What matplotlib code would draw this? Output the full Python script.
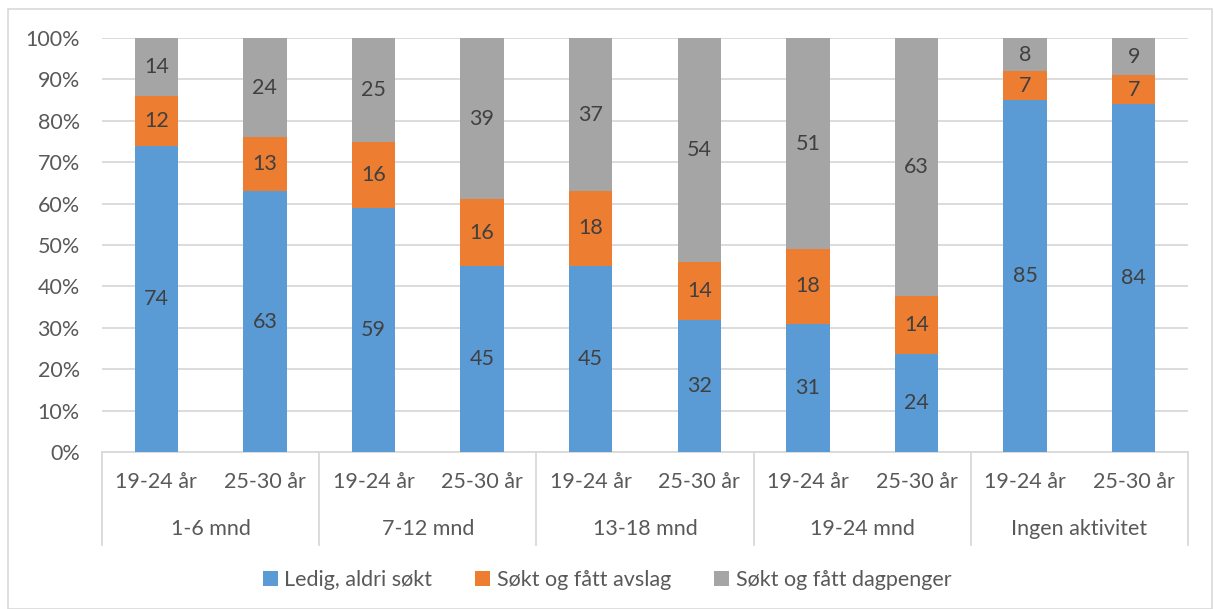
import matplotlib
matplotlib.use("Agg")
import matplotlib.pyplot as plt
from matplotlib.lines import Line2D
from matplotlib.patches import Rectangle, Patch
import numpy as np

plt.rcParams['font.family'] = ['Lato', 'DejaVu Sans']

groups = ["1-6 mnd", "7-12 mnd", "13-18 mnd", "19-24 mnd", "Ingen aktivitet"]
ages = ["19-24 år", "25-30 år"]
series_names = ["Ledig, aldri søkt", "Søkt og fått avslag", "Søkt og fått dagpenger"]
ledig = [74, 63, 59, 45, 45, 32, 31, 24, 85, 84]
avslag = [12, 13, 16, 16, 18, 14, 18, 14, 7, 7]
dagpenger = [14, 24, 25, 39, 37, 54, 51, 63, 8, 9]
colors = ["#5B9BD5", "#ED7D31", "#A5A5A5"]

FS = 15.5
W, H = 1214, 609
fig = plt.figure(figsize=(W/100, H/100), dpi=100)
fig.patches.append(Rectangle((8/W, 0), (W-10)/W, 1-9/H, transform=fig.transFigure,
                             fill=False, edgecolor="#D9D9D9", linewidth=1.2))
x0, x1, ytop, ybot = 102, 1188, 38, 452
ax = fig.add_axes([x0/W, 1-ybot/H, (x1-x0)/W, (ybot-ytop)/H])

data = np.array([ledig, avslag, dagpenger], dtype=float)
totals = data.sum(axis=0)
pct = data / totals * 100
n = data.shape[1]
xs = np.arange(n)
bottom = np.zeros(n)
for i in range(3):
    ax.bar(xs, pct[i], bottom=bottom, width=0.4, color=colors[i], zorder=3)
    for j in range(n):
        ax.text(xs[j], bottom[j] + pct[i][j]/2, f"{int(data[i][j])}", ha="center", va="center",
                fontsize=FS, color="#404040", zorder=4)
    bottom += pct[i]

ax.set_xlim(-0.5, n-0.5)
ax.set_ylim(0, 100)
ax.set_yticks(np.arange(0, 101, 10))
ax.set_yticklabels([f"{v}%" for v in range(0, 101, 10)])
ax.tick_params(axis="y", length=0, labelsize=FS, labelcolor="#595959", pad=16)
ax.tick_params(axis="x", length=0, labelbottom=False)
ax.grid(axis="y", color="#D9D9D9", linewidth=1.3, zorder=0)
for s in ["top", "right", "left"]:
    ax.spines[s].set_visible(False)
ax.spines["bottom"].set_color("#D9D9D9")
ax.spines["bottom"].set_linewidth(1.3)

# multi-level category axis
trans = ax.get_xaxis_transform()
depth = (545 - ybot) / (ybot - ytop)
for k in range(len(groups) + 1):
    xb = -0.5 + 2*k
    ax.add_line(Line2D([xb, xb], [0, -depth], transform=trans, color="#D9D9D9",
                       linewidth=1.3, clip_on=False))
y_age = -(482 - ybot) / (ybot - ytop)
y_grp = -(529 - ybot) / (ybot - ytop)
for j in range(n):
    ax.text(xs[j], y_age, ages[j % 2], transform=trans, ha="center", va="center",
            fontsize=FS, color="#595959")
for g, name in enumerate(groups):
    ax.text(2*g + 0.5, y_grp, name, transform=trans, ha="center", va="center",
            fontsize=FS, color="#595959")

handles = [Patch(facecolor=c, edgecolor="none") for c in colors]
leg = fig.legend(handles, series_names, loc="center", bbox_to_anchor=(0.5, 1-580/H), ncol=3,
                 frameon=False, fontsize=FS, handlelength=0.7, handleheight=0.7,
                 handletextpad=0.3, columnspacing=2.0)
for t in leg.get_texts():
    t.set_color("#595959")

fig.savefig("out.png", dpi=100)
